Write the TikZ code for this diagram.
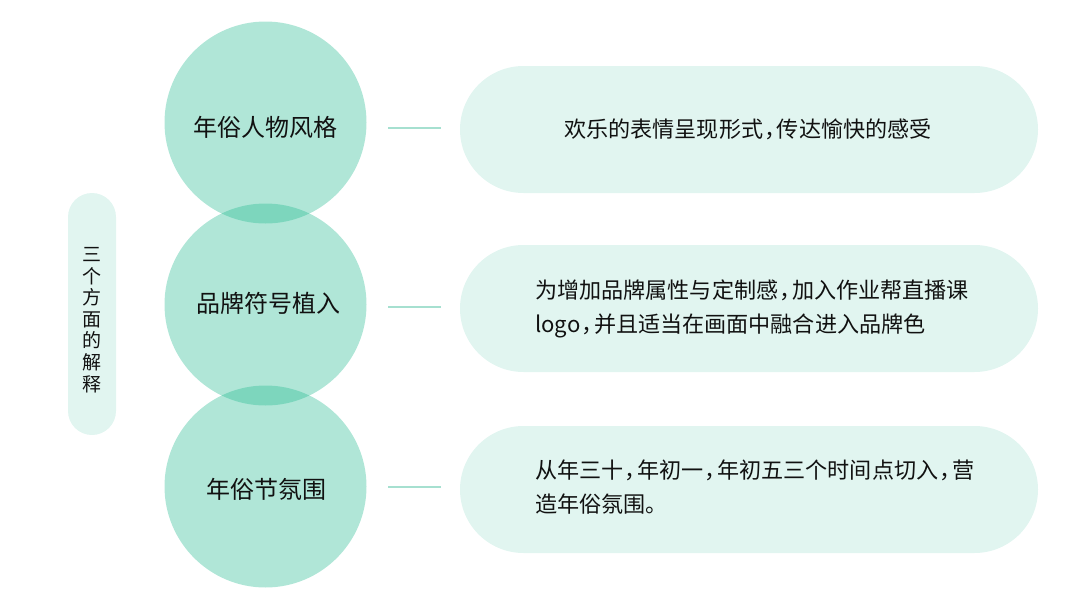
\documentclass[tikz,border=0pt]{standalone}
\usepackage{fontspec}
\setmainfont{Noto Sans CJK SC}
\newcommand\hcm{\makebox[0.62em][l]{\hspace{0.04em}，}}
\definecolor{circfill}{HTML}{1DB88D}
\definecolor{pillfill}{HTML}{E1F5F0}
\definecolor{linecol}{HTML}{A6E0D0}
\definecolor{txt}{HTML}{111111}
\begin{document}
\begin{tikzpicture}[x=1pt,y=-1pt,
  circ/.style={circle,fill=circfill,fill opacity=0.35,minimum size=202pt,inner sep=0pt},
  ctext/.style={text=txt,font=\fontsize{24}{28}\selectfont,inner sep=0pt},
  pill/.style={rounded corners=63.5pt,fill=pillfill,minimum width=578pt,minimum height=127pt,inner sep=0pt},
  ptext/.style={text=txt,font=\fontsize{22.1}{34.5}\selectfont,align=left,inner sep=0pt},
  conn/.style={draw=linecol,line width=1.5pt},
  vpill/.style={rounded corners=24pt,fill=pillfill,minimum width=48pt,minimum height=242pt,inner sep=0pt},
  vtext/.style={text=txt,font=\fontsize{19}{21.6}\selectfont,align=center,inner sep=0pt}]
\useasboundingbox (0,0) rectangle (1080,608);
% side label
\node[vpill] (vp) at (92,314) {};
\node[vtext] (vt) at (92,320) {三\\个\\方\\面\\的\\解\\释};
% circles
\node[circ] (c1) at (265.5,122.5) {};
\node[circ] (c2) at (265.5,304.5) {};
\node[circ] (c3) at (265.5,486.5) {};
\node[ctext] (t1) at (265.5,127) {年俗人物风格};
\node[ctext] (t2) at (268,303) {品牌符号植入};
\node[ctext] (t3) at (266,489) {年俗节氛围};
% pills
\node[pill] (p1) at (749,129.5) {};
\node[pill] (p2) at (749,308.5) {};
\node[pill] (p3) at (749,489.5) {};
\node[ptext] (pt1) at (748,129) {欢乐的表情呈现形式\hcm 传达愉快的感受};
\node[ptext,anchor=west] (pt2) at (535,309) {为增加品牌属性与定制感\hcm 加入作业帮直播课\\logo\hcm 并且适当在画面中融合进入品牌色};
\node[ptext,anchor=west] (pt3) at (535,487) {从年三十\hcm 年初一\hcm 年初五三个时间点切入\hcm 营\\造年俗氛围。};
% connectors
\coordinate (a1) at (388,128); \coordinate (b1) at (441,128);
\coordinate (a2) at (388,307); \coordinate (b2) at (441,307);
\coordinate (a3) at (388,487); \coordinate (b3) at (441,487);
\draw[conn] (a1) -- (b1);
\draw[conn] (a2) -- (b2);
\draw[conn] (a3) -- (b3);
\end{tikzpicture}
\end{document}
